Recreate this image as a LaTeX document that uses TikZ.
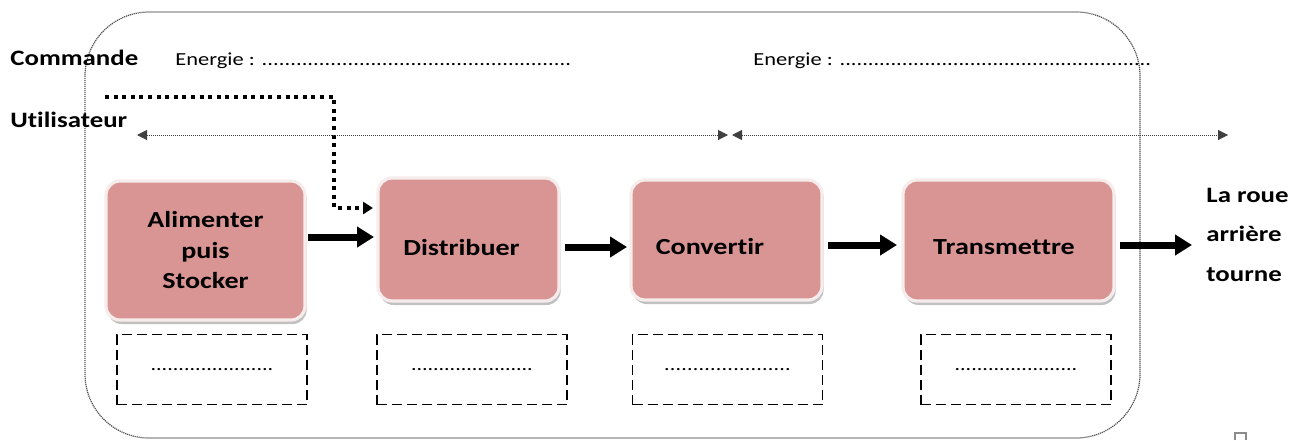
\documentclass[tikz,border=0pt]{standalone}
\usepackage{fontspec}
\setmainfont{Carlito}[FakeStretch=1.22, RawFeature={-liga;-clig;-dlig}]
\usetikzlibrary{arrows.meta,shadows}
\definecolor{boxpink}{HTML}{D99594}
\definecolor{boxrim}{HTML}{F6ECEC}
\definecolor{frameg}{HTML}{505050}
\newcommand{\dotrow}[1]{\hbox to #1{\xleaders\hbox{.}\hfill}}
\begin{document}
\begin{tikzpicture}[x=0.5pt,y=-0.5pt,
  lbl/.style={font=\fontsize{11}{13}\selectfont\bfseries, inner sep=0pt, anchor=base west},
  nrg/.style={font=\fontsize{9.2}{11}\selectfont, inner sep=0pt, anchor=base west},
  fbox/.style={rounded corners=7pt, fill=boxpink, draw=boxrim, line width=1.6pt,
    drop shadow={shadow xshift=0.8pt, shadow yshift=-2pt, fill=black!35, opacity=0.7},
    inner sep=0pt, outer sep=0pt},
  btext/.style={font=\fontsize{11.5}{15.25}\selectfont\bfseries, align=center, inner sep=0pt},
  dbox/.style={draw, dash pattern=on 5pt off 2.5pt, line width=0.8pt, minimum width=95pt,
    minimum height=35pt, inner sep=0pt, font=\fontsize{9}{11}\selectfont},
  bigarrow/.style={line width=3.5pt, -{Triangle[length=8.5pt,width=10pt]}},
  ctrl/.style={line width=2pt, dash pattern=on 2pt off 2.3pt, -{Triangle[length=5pt,width=6pt]}},
  thinarr/.style={draw=black!75, line width=0.5pt, dash pattern=on 0.5pt off 0.5pt,
    {Triangle[length=5pt,width=5pt]}-{Triangle[length=5pt,width=5pt]}},
  frame/.style={draw=frameg, line width=0.6pt, dash pattern=on 0.6pt off 0.4pt, rounded corners=32pt},
  outtext/.style={font=\fontsize{11}{19.75}\selectfont\bfseries, align=left, inner sep=0pt, anchor=west}
]
\useasboundingbox (0,0) rectangle (1309,440);

% frame
\draw[frame] (85,12) rectangle (1140,438);

% top labels
\node[lbl] (cmd) at (10,65) {Commande};
\node[lbl] (usr) at (10,127) {Utilisateur};
\node[nrg] (en1) at (175,65) {Energie : \dotrow{155pt}};
\node[nrg] (en2) at (753,65) {Energie : \dotrow{156pt}};

% function boxes
\node[fbox, minimum width=99.5pt, minimum height=69.5pt, font=\fontsize{11.5}{15.25}\selectfont\bfseries, align=center] (b1) at (205.5,250.5) {Alimenter\\puis\\Stocker};
\node[fbox, minimum width=90.5pt, minimum height=61.5pt,
  label={[btext, xshift=-3.5pt, yshift=-4pt]center:Distribuer}] (b2) at (468.5,239.5) {};
\node[fbox, minimum width=95.5pt, minimum height=60pt,
  label={[btext, xshift=-8.25pt, yshift=-3.25pt]center:Convertir}] (b3) at (726.5,240) {};
\node[fbox, minimum width=105.5pt, minimum height=60.5pt,
  label={[btext, xshift=-2.25pt, yshift=-3.5pt]center:Transmettre}] (b4) at (1008.5,240.5) {};

% output text
\node[outtext] (out) at (1206,234.5) {La roue\\arrière\\tourne};

% dashed boxes
\node[dbox] (d1) at (212,369.5) {\dotrow{61.5pt}};
\node[dbox] (d2) at (472,369.5) {\dotrow{61pt}};
\node[dbox] (d3) at (727.5,369.5) {\dotrow{63.5pt}};
\node[dbox] (d4) at (1016,369.5) {\dotrow{61.5pt}};

% thick arrows
\path ([yshift=1.25pt]b2.west) coordinate (a12);
\draw[bigarrow, shorten <=1.5pt, shorten >=2pt] (b1.east |- a12) -- (a12);
\path ([yshift=-3.75pt]b2.east) coordinate (a23);
\draw[bigarrow, shorten <=3pt, shorten >=2pt] (a23) -- (b3.west |- a23);
\path ([yshift=-2.5pt]b3.east) coordinate (a34);
\draw[bigarrow, shorten <=3pt, shorten >=3pt] (a34) -- (b4.west |- a34);
\path ([yshift=-2.25pt]b4.east) coordinate (a45);
\draw[bigarrow, shorten <=3pt, shorten >=7pt] (a45) -- (out.west |- a45);

% control line
\coordinate (cs) at (105,97);
\coordinate (cb) at (334,97);
\path ([yshift=15.75pt]b2.west) coordinate (ce);
\draw[ctrl, shorten >=2.5pt] (cs) -- (cb) |- (ce);

% thin energy arrows
\coordinate (u1) at (137,135);
\coordinate (u2) at (728,135);
\coordinate (u3) at (732,135);
\coordinate (u4) at (1228,135);
\draw[thinarr] (u1) -- (u2);
\draw[thinarr] (u3) -- (u4);

% small square at bottom right
\draw[black!45, line width=0.6pt] (1235,440) -- (1235,433) -- (1246,433) -- (1246,440);
\end{tikzpicture}
\end{document}
